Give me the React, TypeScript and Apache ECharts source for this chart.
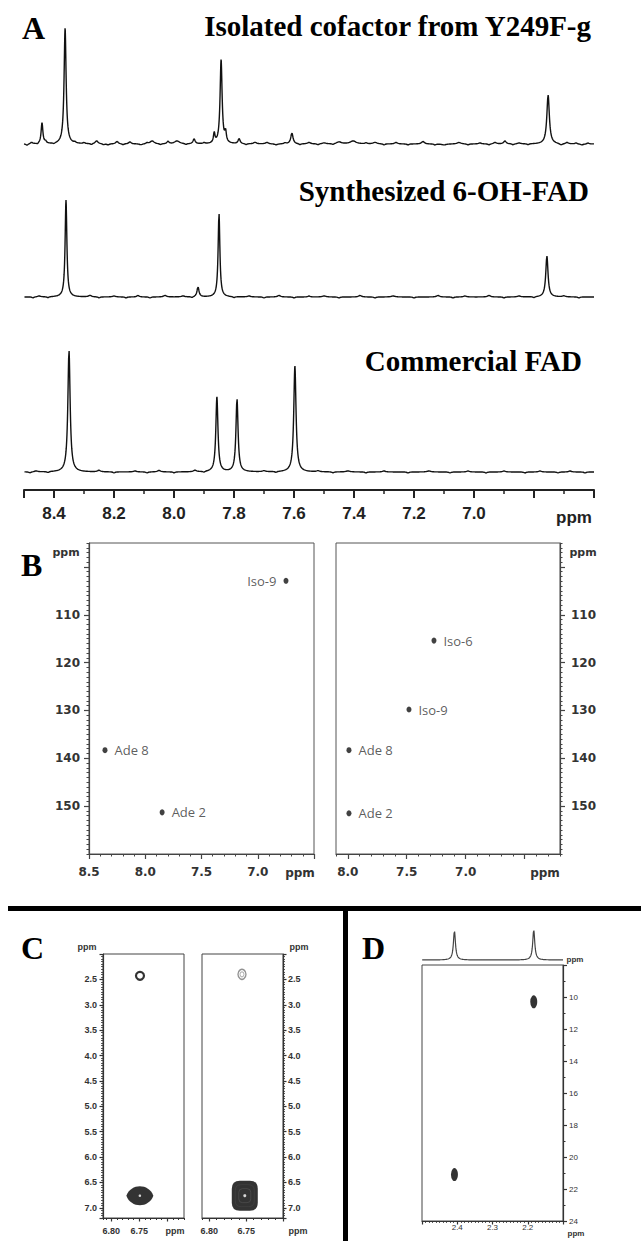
import React, { useEffect, useRef } from "react";
import * as echarts from "echarts";

// ---------------- Panel A : 1D 1H spectra ----------------
// peaks: [ppm, height (px units above baseline), half width (ppm)]
const A_PPM_MIN = 6.6;
const A_PPM_MAX = 8.5;
const A_TICK_LABELS = [8.4, 8.2, 8.0, 7.8, 7.6, 7.4, 7.2, 7.0];
const A_TITLES = ["Isolated cofactor from Y249F-g", "Synthesized 6-OH-FAD", "Commercial FAD"];

const isolatedPeaks = [
  [8.44, 21, 0.0035],
  [8.363, 116, 0.004],
  [7.866, 10, 0.003],
  [7.843, 84, 0.004],
  [7.828, 10, 0.003],
  [7.783, 5, 0.004],
  [7.607, 11, 0.0045],
  [6.753, 49, 0.005],
];
const isolatedNoise = [
  [8.49, -1.5, 0.004], [8.475, 1.5, 0.004], [8.455, -1, 0.003], [8.428, 2, 0.003], [8.4, -1, 0.004],
  [8.33, 1, 0.004], [8.3, 1, 0.004], [8.275, -1, 0.004], [8.258, 3, 0.006], [8.235, -1, 0.004],
  [8.22, -1, 0.005], [8.19, 2.5, 0.005], [8.17, -1, 0.004], [8.147, 2, 0.005], [8.11, -1, 0.006],
  [8.09, 1, 0.004], [8.073, 3, 0.008], [8.045, -1, 0.004], [8.02, 2.5, 0.004], [7.99, 3, 0.01],
  [7.96, -1, 0.004], [7.933, 5, 0.004], [7.9, 1, 0.004], [7.76, -1, 0.004], [7.73, 1.5, 0.006],
  [7.69, 1.5, 0.006], [7.66, -1, 0.006], [7.63, 1, 0.004], [7.58, -1, 0.004], [7.55, 1.5, 0.006],
  [7.52, -1, 0.004], [7.5, 1, 0.008], [7.47, -1, 0.004], [7.45, 2, 0.01], [7.403, 3, 0.012],
  [7.36, 1, 0.004], [7.33, 1.5, 0.008], [7.3, -1, 0.004], [7.26, 1.5, 0.006], [7.22, -1, 0.004],
  [7.17, 2.5, 0.006], [7.13, -1, 0.004], [7.1, -1, 0.008], [7.05, 1.5, 0.008], [7.02, -1, 0.004],
  [6.98, 1, 0.006], [6.95, -1, 0.004], [6.93, 1.5, 0.006], [6.897, 3, 0.005], [6.87, -1, 0.004],
  [6.85, 1, 0.006], [6.82, -1, 0.004], [6.71, -1.5, 0.006], [6.69, 1.5, 0.005], [6.66, 1, 0.004],
  [6.64, -1, 0.006], [6.62, 1, 0.004],
];
const synthPeaks = [
  [8.36, 97, 0.0035],
  [7.92, 10, 0.004],
  [7.85, 84, 0.0035],
  [6.757, 41, 0.0045],
];
const synthNoise = [
  [8.47, -1, 0.004], [8.45, 1, 0.006], [8.42, -1, 0.004], [8.28, 1.5, 0.006], [8.25, -1, 0.004],
  [8.2, 1, 0.006], [8.16, -1, 0.004], [8.12, 1.5, 0.005], [8.08, -1, 0.004], [8.03, 1.5, 0.006],
  [7.97, 1, 0.006], [7.94, -1, 0.004], [7.8, -1, 0.004], [7.75, 1, 0.006], [7.7, -1, 0.004],
  [7.65, 1.5, 0.006], [7.6, -1, 0.004], [7.55, 1, 0.004], [7.5, 1, 0.008], [7.45, -1, 0.004],
  [7.38, 1.5, 0.006], [7.33, -1, 0.004], [7.27, 1, 0.008], [7.2, -1, 0.004], [7.12, 1.5, 0.006],
  [7.07, -1, 0.004], [7.03, 1, 0.006], [6.95, 1.5, 0.006], [6.9, -1, 0.004], [6.85, 1, 0.006],
  [6.8, -1, 0.004], [6.7, 1, 0.006], [6.65, -1, 0.004],
];
const commercialPeaks = [
  [8.35, 122, 0.0045],
  [7.857, 75, 0.0042],
  [7.79, 73, 0.0042],
  [7.597, 106, 0.0045],
];
const commercialNoise = [
  [8.48, -1, 0.004], [8.46, 1, 0.006], [8.42, -1, 0.004], [8.25, 1.5, 0.006], [8.2, -1, 0.004],
  [8.13, 1, 0.006], [8.09, -1, 0.004], [8.05, 1.5, 0.006], [8.0, -1, 0.004], [7.93, 1.5, 0.006],
  [7.9, -1, 0.004], [7.7, 1, 0.006], [7.66, -1, 0.004], [7.52, 1, 0.006], [7.47, -1, 0.004],
  [7.42, 1, 0.008], [7.36, -1, 0.004], [7.3, 1, 0.006], [7.22, -1, 0.004], [7.15, 1, 0.008],
  [7.08, -1, 0.004], [7.02, 1, 0.006], [6.96, -1, 0.004], [6.9, 1, 0.006], [6.83, -1, 0.004],
  [6.78, 1, 0.006], [6.72, -1, 0.004], [6.68, 1, 0.006], [6.63, -1, 0.004],
];

// ---------------- Panel B : 2D HSQC-type maps ----------------
const B_Y_TICKS = [100, 110, 120, 130, 140, 150];
const B_Y_LABELS = [110, 120, 130, 140, 150];
const B_LEFT_X_LABELS = [8.5, 8.0, 7.5, 7.0];
const B_RIGHT_X_TICKS = [8.0, 7.5, 7.0, 6.5];
const B_RIGHT_X_LABELS = [8.0, 7.5, 7.0];

const B_LEFT_NAMES = ["Iso-9", "Ade 8", "Ade 2"];
const B_LEFT_X = [6.749, 8.358, 7.85];
const B_LEFT_Y = [102.9, 138.3, 151.3];
const B_LEFT_SIDE = ["left", "right", "right"];

const B_RIGHT_NAMES = ["Iso-6", "Iso-9", "Ade 8", "Ade 2"];
const B_RIGHT_X = [7.269, 7.481, 7.99, 7.99];
const B_RIGHT_Y = [115.4, 129.8, 138.3, 151.5];
const B_RIGHT_SIDE = ["right", "right", "right", "right"];

// ---------------- Panel C ----------------
const C_X_TICKS = [6.8, 6.75, 6.7];
const C_X_LABELS = [6.8, 6.75];
const C_LEFT_RING = [6.7488, 2.43];
const C_LEFT_BLOB = [6.749, 6.76];
const C_RIGHT_RING = [6.7557, 2.4];
const C_RIGHT_BLOB = [6.7519, 6.76];

// ---------------- Panel D ----------------
const D_X = [2.183, 2.408];
const D_Y = [10.3, 21.1];
const D_TRACE_PEAKS = [
  [2.408, 29, 0.0035],
  [2.183, 30, 0.0035],
];

const SERIF = '"Liberation Serif", "Times New Roman", serif';
const SANS = '"Liberation Sans", Arial, sans-serif';
const DEJAVU = '"DejaVu Sans", sans-serif';
const OPEN = '"Open Sans", "Noto Sans", sans-serif';

function lineshape(peaks: number[][], lo: number, hi: number, step: number) {
  const pts: number[][] = [];
  const n = Math.round((hi - lo) / step);
  for (let k = 0; k <= n; k++) {
    const x = lo + k * step;
    let y = 0;
    for (const [p, h, w] of peaks) {
      const d = (x - p) / w;
      y += h / (1 + d * d);
    }
    pts.push([+x.toFixed(4), +y.toFixed(2)]);
  }
  return pts;
}

function txt(text: string, x: number, y: number, font: string, align = "left", fill = "#000") {
  return {
    type: "text",
    x,
    y,
    silent: true,
    style: { text, font, fill, textAlign: align, align, textVerticalAlign: "middle", verticalAlign: "middle" },
  };
}

function near(list: number[], v: number) {
  return list.some((t) => Math.abs(t - v) < 1e-6);
}

function buildOption() {
  const grid: any[] = [];
  const xAxis: any[] = [];
  const yAxis: any[] = [];
  const series: any[] = [];
  const noSplit = { show: false };

  // ----- Panel A -----
  const aLayout = [
    { top: 14, height: 136, ymin: -6 },
    { top: 167, height: 136, ymin: -6 },
    { top: 342, height: 148, ymin: -18 },
  ];
  const aData = [
    lineshape(isolatedPeaks.concat(isolatedNoise), A_PPM_MIN, A_PPM_MAX, 0.0008),
    lineshape(synthPeaks.concat(synthNoise), A_PPM_MIN, A_PPM_MAX, 0.0008),
    lineshape(commercialPeaks.concat(commercialNoise), A_PPM_MIN, A_PPM_MAX, 0.0008),
  ];
  aLayout.forEach((g, i) => {
    grid.push({ left: 24, top: g.top, width: 570, height: g.height });
    const gi = grid.length - 1;
    if (i < 2) {
      xAxis.push({ type: "value", gridIndex: gi, min: A_PPM_MIN, max: A_PPM_MAX, inverse: true, show: false });
    } else {
      xAxis.push({
        type: "value", gridIndex: gi, position: "bottom", min: A_PPM_MIN, max: A_PPM_MAX, interval: 0.2, inverse: true,
        axisLine: { show: true, onZero: false, lineStyle: { color: "#222", width: 2 } },
        axisTick: { show: true, length: 8, lineStyle: { color: "#222", width: 2 } },
        minorTick: { show: true, splitNumber: 2, length: 4, lineStyle: { color: "#222", width: 1.5 } },
        axisLabel: {
          show: true, margin: 15, fontSize: 17, fontWeight: "bold", fontFamily: SANS, color: "#222",
          formatter: (v: number) => (near(A_TICK_LABELS, v) ? v.toFixed(1) : ""),
        },
        splitLine: noSplit,
      });
    }
    yAxis.push({ type: "value", gridIndex: gi, min: g.ymin, max: g.ymin + g.height, show: false });
    series.push({
      type: "line", xAxisIndex: xAxis.length - 1, yAxisIndex: yAxis.length - 1, data: aData[i],
      showSymbol: false, symbol: "none", silent: true, lineStyle: { color: "#111", width: 1.4 },
    });
  });

  // ----- Panel B -----
  const bAxisColor = "#444";
  const bLabel = { fontSize: 12, fontWeight: "bold", fontFamily: DEJAVU, color: "#333" };
  const bPanels = [
    {
      left: 89, width: 225, xmin: 6.5, xmax: 8.5, ypos: "left", names: B_LEFT_NAMES, xs: B_LEFT_X, ys: B_LEFT_Y,
      side: B_LEFT_SIDE, regular: true,
    },
    {
      left: 336, width: 224, xmin: 6.2, xmax: 8.1, ypos: "right", names: B_RIGHT_NAMES, xs: B_RIGHT_X, ys: B_RIGHT_Y,
      side: B_RIGHT_SIDE, regular: false,
    },
  ];
  bPanels.forEach((p) => {
    grid.push({ left: p.left, top: 543, width: p.width, height: 311, show: true, borderColor: "#555", borderWidth: 1, backgroundColor: "transparent" });
    const gi = grid.length - 1;
    if (p.regular) {
      xAxis.push({
        type: "value", gridIndex: gi, position: "bottom", min: p.xmin, max: p.xmax, interval: 0.5, inverse: true,
        axisLine: { show: true, onZero: false, lineStyle: { color: bAxisColor, width: 1.2 } },
        axisTick: { show: true, length: 5, lineStyle: { color: bAxisColor, width: 1.2 } },
        minorTick: { show: true, splitNumber: 5, length: 2.5, lineStyle: { color: bAxisColor, width: 1 } },
        axisLabel: { ...bLabel, margin: 12, formatter: (v: number) => (near(B_LEFT_X_LABELS, v) ? v.toFixed(1) : "") },
        splitLine: noSplit,
      });
    } else {
      xAxis.push({
        type: "value", gridIndex: gi, position: "bottom", min: p.xmin, max: p.xmax, inverse: true,
        axisLine: { show: true, onZero: false, lineStyle: { color: bAxisColor, width: 1.2 } },
        axisTick: { show: true, length: 5, customValues: B_RIGHT_X_TICKS, lineStyle: { color: bAxisColor, width: 1.2 } },
        axisLabel: { ...bLabel, margin: 12, customValues: B_RIGHT_X_LABELS, formatter: (v: number) => v.toFixed(1) },
        splitLine: noSplit,
      });
      xAxis.push({
        type: "value", gridIndex: gi, position: "bottom", min: p.xmin, max: p.xmax, interval: 0.1, inverse: true,
        axisLine: { show: false, onZero: false },
        axisTick: { show: true, length: 2.5, lineStyle: { color: bAxisColor, width: 1 } },
        axisLabel: { show: false }, splitLine: noSplit,
      });
    }
    const xi = p.regular ? xAxis.length - 1 : xAxis.length - 2;
    yAxis.push({
      type: "value", gridIndex: gi, position: p.ypos, min: 95, max: 160, inverse: true,
      axisLine: { show: true, onZero: false, lineStyle: { color: bAxisColor, width: 1.2 } },
      axisTick: { show: true, length: 5, customValues: B_Y_TICKS, lineStyle: { color: bAxisColor, width: 1.2 } },
      axisLabel: { ...bLabel, margin: p.ypos === "left" ? 9 : 11, customValues: B_Y_LABELS },
      splitLine: noSplit,
    });
    const yi = yAxis.length - 1;
    yAxis.push({
      type: "value", gridIndex: gi, position: p.ypos, min: 95, max: 160, interval: 1, inverse: true,
      axisLine: { show: false, onZero: false },
      axisTick: { show: true, length: 2.5, lineStyle: { color: bAxisColor, width: 1 } },
      axisLabel: { show: false }, splitLine: noSplit,
    });
    series.push({
      type: "scatter", xAxisIndex: xi, yAxisIndex: yi, silent: true, symbol: "circle", symbolSize: [5, 6],
      itemStyle: { color: "#111" },
      label: { show: true, formatter: "{b}", distance: 7, fontSize: 13, fontFamily: OPEN, color: "#333" },
      data: p.names.map((n, i) => ({ name: n, value: [p.xs[i], p.ys[i]], label: { position: p.side[i] } })),
    });
  });

  // ----- Panel C -----
  const cColor = "#333";
  const cLabel = { fontSize: 9, fontWeight: "bold", fontFamily: SANS, color: "#333" };
  const cPanels = [
    { left: 103, xmin: 6.67, xmax: 6.815, ypos: "left", ymargin: 6 },
    { left: 202, xmin: 6.7, xmax: 6.81, ypos: "right", ymargin: 5 },
  ];
  const cIdx: number[][] = [];
  cPanels.forEach((p) => {
    grid.push({ left: p.left, top: 954, width: 81, height: 264, show: true, borderColor: "#444", borderWidth: 1, backgroundColor: "transparent" });
    const gi = grid.length - 1;
    xAxis.push({
      type: "value", gridIndex: gi, position: "bottom", min: p.xmin, max: p.xmax, inverse: true,
      axisLine: { show: true, onZero: false, lineStyle: { color: cColor, width: 1.2 } },
      axisTick: { show: true, length: 3.5, customValues: C_X_TICKS, lineStyle: { color: cColor, width: 1.2 } },
      axisLabel: { ...cLabel, margin: 8, customValues: C_X_LABELS, formatter: (v: number) => v.toFixed(2) },
      splitLine: noSplit,
    });
    const xi = xAxis.length - 1;
    xAxis.push({
      type: "value", gridIndex: gi, position: "bottom", min: p.xmin, max: p.xmax, interval: 0.01, inverse: true,
      axisLine: { show: false, onZero: false },
      axisTick: { show: true, length: 2, lineStyle: { color: cColor, width: 1 } },
      axisLabel: { show: false }, splitLine: noSplit,
    });
    yAxis.push({
      type: "value", gridIndex: gi, position: p.ypos, min: 2.0, max: 7.2, interval: 0.5, inverse: true,
      axisLine: { show: true, onZero: false, lineStyle: { color: cColor, width: 1.2 } },
      axisTick: { show: true, length: 3.5, lineStyle: { color: cColor, width: 1.2 } },
      minorTick: { show: true, splitNumber: 10, length: 2, lineStyle: { color: cColor, width: 0.8 } },
      axisLabel: {
        ...cLabel, margin: p.ymargin,
        formatter: (v: number) => (v > 2.2 && Math.abs(v * 2 - Math.round(v * 2)) < 1e-6 ? v.toFixed(1) : ""),
      },
      splitLine: noSplit,
    });
    cIdx.push([xi, yAxis.length - 1]);
  });
  const lemon = "path://M0,10 C5,-1 25,-1 30,10 C25,21 5,21 0,10 Z";
  const rounded = "path://M8,0 H18 Q26,0 26,8 V22 Q26,30 18,30 H8 Q0,30 0,22 V8 Q0,0 8,0 Z";
  // left C
  series.push({ type: "scatter", xAxisIndex: cIdx[0][0], yAxisIndex: cIdx[0][1], silent: true, symbol: "circle", symbolSize: 8,
    itemStyle: { color: "#fff", borderColor: "#000", borderWidth: 2.2 }, data: [C_LEFT_RING] });
  series.push({ type: "scatter", xAxisIndex: cIdx[0][0], yAxisIndex: cIdx[0][1], silent: true, symbol: lemon, symbolSize: [27, 19],
    itemStyle: { color: "#000" }, data: [C_LEFT_BLOB] });
  series.push({ type: "scatter", xAxisIndex: cIdx[0][0], yAxisIndex: cIdx[0][1], silent: true, symbol: "circle", symbolSize: 2.5,
    itemStyle: { color: "#fff" }, data: [C_LEFT_BLOB] });
  // right C
  series.push({ type: "scatter", xAxisIndex: cIdx[1][0], yAxisIndex: cIdx[1][1], silent: true, symbol: "circle", symbolSize: [8, 10],
    itemStyle: { color: "#fff", borderColor: "#777", borderWidth: 1.5 }, data: [C_RIGHT_RING] });
  series.push({ type: "scatter", xAxisIndex: cIdx[1][0], yAxisIndex: cIdx[1][1], silent: true, symbol: "circle", symbolSize: [4, 5],
    itemStyle: { color: "#fff", borderColor: "#999", borderWidth: 1 }, data: [C_RIGHT_RING] });
  series.push({ type: "scatter", xAxisIndex: cIdx[1][0], yAxisIndex: cIdx[1][1], silent: true, symbol: rounded, symbolSize: [26, 30],
    itemStyle: { color: "#000" }, data: [C_RIGHT_BLOB] });
  series.push({ type: "scatter", xAxisIndex: cIdx[1][0], yAxisIndex: cIdx[1][1], silent: true, symbol: rounded, symbolSize: [19, 22],
    itemStyle: { color: "transparent", borderColor: "#444", borderWidth: 0.8 }, data: [C_RIGHT_BLOB] });
  series.push({ type: "scatter", xAxisIndex: cIdx[1][0], yAxisIndex: cIdx[1][1], silent: true, symbol: rounded, symbolSize: [12, 14],
    itemStyle: { color: "transparent", borderColor: "#555", borderWidth: 0.8 }, data: [C_RIGHT_BLOB] });
  series.push({ type: "scatter", xAxisIndex: cIdx[1][0], yAxisIndex: cIdx[1][1], silent: true, symbol: "circle", symbolSize: 3,
    itemStyle: { color: "#fff" }, data: [C_RIGHT_BLOB] });

  // ----- Panel D -----
  const dColor = "#333";
  grid.push({ left: 422, top: 965, width: 141, height: 256, show: true, borderColor: "#444", borderWidth: 1, backgroundColor: "transparent" });
  let gi = grid.length - 1;
  xAxis.push({
    type: "value", gridIndex: gi, position: "bottom", min: 2.1, max: 2.5, interval: 0.1, inverse: true,
    axisLine: { show: true, onZero: false, lineStyle: { color: dColor, width: 1.2 } },
    axisTick: { show: true, length: 3.5, lineStyle: { color: dColor, width: 1.2 } },
    minorTick: { show: true, splitNumber: 10, length: 2, lineStyle: { color: dColor, width: 0.8 } },
    axisLabel: {
      margin: 2, fontSize: 8, fontFamily: SANS, color: "#333",
      formatter: (v: number) => (v > 2.15 && v < 2.45 ? v.toFixed(1) : ""),
    },
    splitLine: noSplit,
  });
  const dxi = xAxis.length - 1;
  yAxis.push({
    type: "value", gridIndex: gi, position: "right", min: 8, max: 24, interval: 2, inverse: true,
    axisLine: { show: true, onZero: false, lineStyle: { color: dColor, width: 1.2 } },
    axisTick: { show: true, length: 4, lineStyle: { color: dColor, width: 1.2 } },
    minorTick: { show: true, splitNumber: 2, length: 2.5, lineStyle: { color: dColor, width: 1 } },
    axisLabel: { margin: 6, fontSize: 8, fontFamily: SANS, color: "#333", formatter: (v: number) => (v > 9 ? String(v) : "") },
    splitLine: noSplit,
  });
  series.push({ type: "scatter", xAxisIndex: dxi, yAxisIndex: yAxis.length - 1, silent: true, symbol: "circle", symbolSize: [7, 13],
    itemStyle: { color: "#000" }, data: D_X.map((x, i) => [x, D_Y[i]]) });

  grid.push({ left: 422, top: 925, width: 141, height: 37 });
  gi = grid.length - 1;
  xAxis.push({ type: "value", gridIndex: gi, min: 2.1, max: 2.5, inverse: true, show: false });
  yAxis.push({ type: "value", gridIndex: gi, min: -2, max: 35, show: false });
  series.push({
    type: "line", xAxisIndex: xAxis.length - 1, yAxisIndex: yAxis.length - 1, silent: true, showSymbol: false, symbol: "none",
    lineStyle: { color: "#444", width: 1.2 }, data: lineshape(D_TRACE_PEAKS, 2.1, 2.5, 0.0005),
  });

  // ----- graphics -----
  const letterFont = `bold 32px ${SERIF}`;
  const titleFont = `bold 29px ${SERIF}`;
  const graphic: any[] = [
    { type: "rect", silent: true, shape: { x: 8, y: 906, width: 633, height: 5 }, style: { fill: "#000" } },
    { type: "rect", silent: true, shape: { x: 343, y: 906, width: 5, height: 335 }, style: { fill: "#000" } },
    txt("A", 22, 28, letterFont),
    txt("B", 21, 565, letterFont),
    txt("C", 21, 948, letterFont),
    txt("D", 362, 948, letterFont),
    txt(A_TITLES[0], 591, 26, titleFont, "right"),
    txt(A_TITLES[1], 589, 191, titleFont, "right"),
    txt(A_TITLES[2], 582, 361, titleFont, "right"),
    txt("ppm", 574, 517, `bold 17px ${SANS}`, "center", "#222"),
    txt("ppm", 66, 552, `bold 11px ${DEJAVU}`, "center", "#333"),
    txt("ppm", 300, 873, `bold 12px ${DEJAVU}`, "center", "#333"),
    txt("ppm", 583, 552, `bold 11px ${DEJAVU}`, "center", "#333"),
    txt("ppm", 545, 873, `bold 12px ${DEJAVU}`, "center", "#333"),
    txt("ppm", 87, 947, `bold 9px ${SANS}`, "center", "#333"),
    txt("ppm", 299, 947, `bold 9px ${SANS}`, "center", "#333"),
    txt("ppm", 175, 1231, `bold 9px ${SANS}`, "center", "#333"),
    txt("ppm", 298, 1231, `bold 9px ${SANS}`, "center", "#333"),
    txt("ppm", 575, 959, `bold 8px ${SANS}`, "center", "#333"),
    txt("ppm", 576, 1233, `bold 8px ${SANS}`, "center", "#333"),
  ];

  return {
    animation: false,
    backgroundColor: "#fff",
    grid,
    xAxis,
    yAxis,
    series,
    graphic,
  };
}

export default function App() {
  const ref = useRef<HTMLDivElement>(null);
  useEffect(() => {
    if (!ref.current) return;
    const chart = echarts.init(ref.current, null, { renderer: "svg" });
    chart.setOption(buildOption() as any);
    return () => chart.dispose();
  }, []);
  return (
    <div
      ref={ref}
      style={{ position: "absolute", left: 0, top: 0, width: 641, height: 1241, background: "#fff" }}
    />
  );
}
